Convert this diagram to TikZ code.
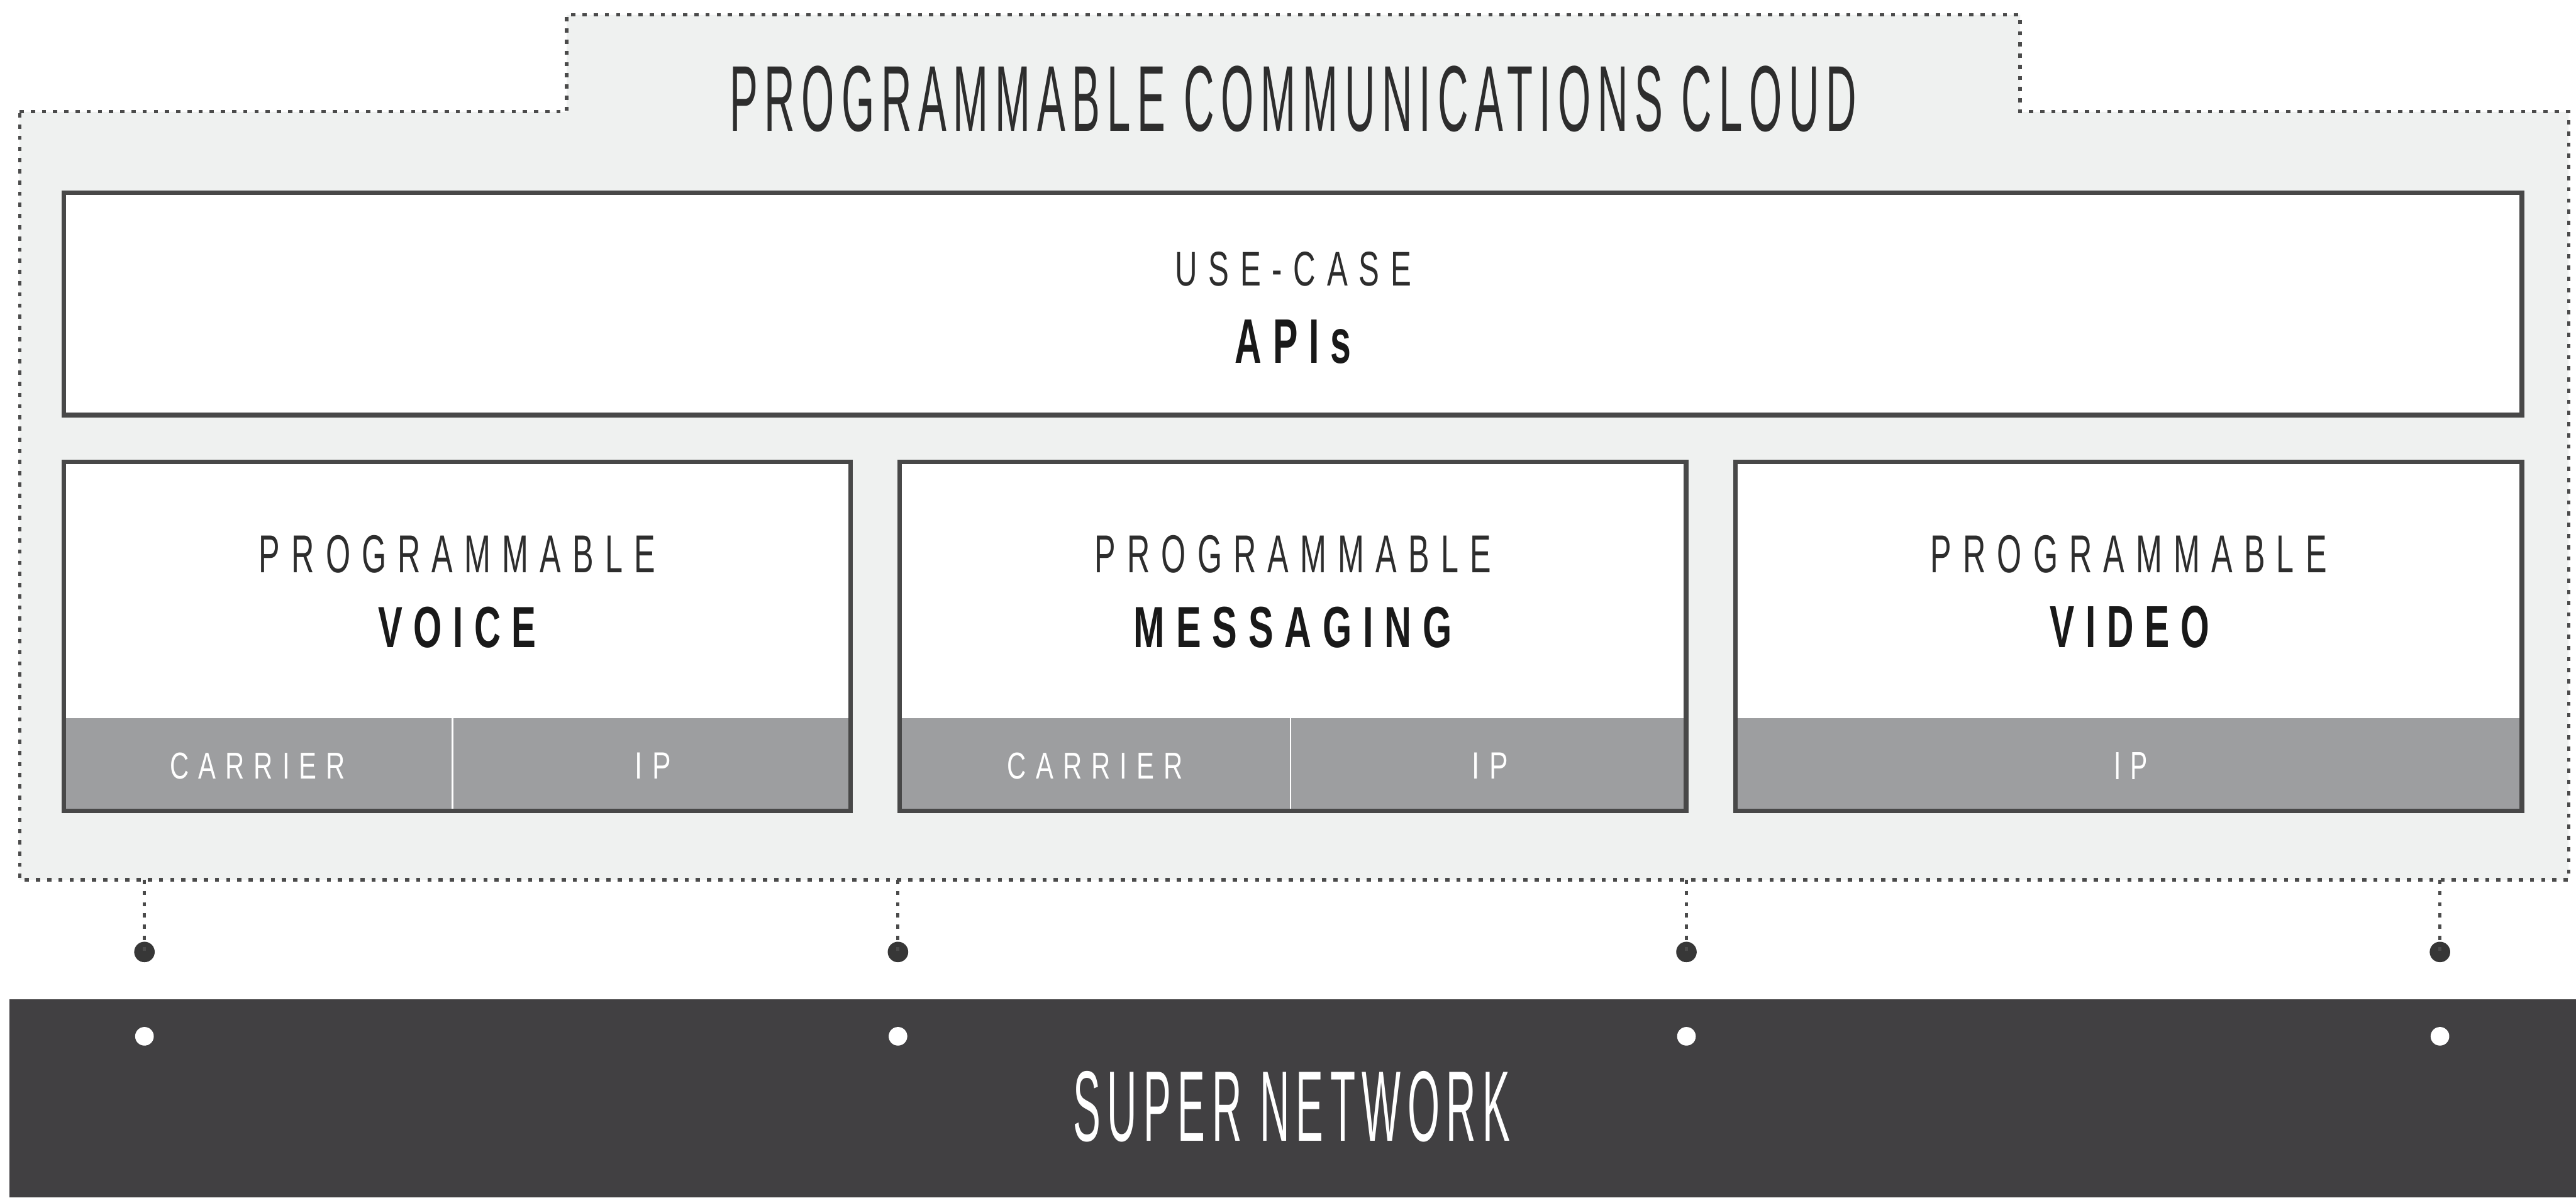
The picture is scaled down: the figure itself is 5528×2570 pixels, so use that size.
\documentclass[tikz,border=0pt]{standalone}
\usepackage{fontspec}
\usepackage{graphicx}
\setmainfont{Liberation Sans}
\newfontfamily\thinfont[LetterSpace=16]{Liberation Sans}
\newfontfamily\spacedfont[LetterSpace=36]{Liberation Sans}
\newfontfamily\boldspaced[LetterSpace=30]{Liberation Sans}
\newlength\px
\setlength\px{0.1mm}
\newcommand\fitT[3]{\resizebox{#1\px}{#2\px}{\thinfont #3}}
\newcommand\fitS[3]{\resizebox{#1\px}{#2\px}{\spacedfont #3}}
\newcommand\fitB[3]{\resizebox{#1\px}{#2\px}{\boldspaced\bfseries #3}}
\definecolor{cloudfill}{RGB}{239,241,240}
\definecolor{boxline}{RGB}{72,72,72}
\definecolor{bandgray}{RGB}{157,158,160}
\definecolor{netdark}{RGB}{65,64,66}
\definecolor{textdark}{RGB}{45,45,45}
\definecolor{textblack}{RGB}{25,25,25}
\definecolor{dotgray}{RGB}{55,55,55}
\definecolor{linegray}{RGB}{75,75,75}
\begin{document}
\begin{tikzpicture}[x=0.1mm,y=-0.1mm,
  every node/.style={inner sep=0pt,outer sep=0pt},
  cloudline/.style={draw=linegray,line width=0.7mm,dash pattern=on 0.9mm off 1.5mm},
  dotline/.style={draw=linegray,line width=0.7mm,dash pattern=on 0.9mm off 1.5mm},
  panel/.style={rectangle,fill=white},
  panelframe/.style={draw=boxline,line width=1.0mm},
  band/.style={rectangle,fill=bandgray},
  divider/.style={draw=white,line width=0.3mm},
  darkdot/.style={circle,fill=dotgray,minimum size=4.4mm},
  whitedot/.style={circle,fill=white,minimum size=4.0mm},
  dark/.style={text=textdark},
  darker/.style={text=textblack},
  light/.style={text=white}]
\useasboundingbox (0,0) rectangle (5528,2570);
\fill[white] (0,0) rectangle (5528,2570);
% cloud region
\path[cloudline,fill=cloudfill] (42,240) -- (1216,240) -- (1216,32) -- (4335,32) -- (4335,240) -- (5512,240) -- (5512,1888) -- (42,1888) -- cycle;
\node[dark] (title) at (2775,213) {\fitT{2418}{140}{PROGRAMMABLE COMMUNICATIONS CLOUD}};
% APIs box
\node[panel,minimum width=527.5mm,minimum height=47.7mm] (apis) at (2774.5,652.5) {};
\draw[panelframe] (apis.south west) rectangle (apis.north east);
\node[dark] (usecase) at (2775,577) {\fitS{507}{73}{USE-CASE}};
\node[darker] (apistext) at (2775,733) {\fitB{249}{93}{APIs}};
% three boxes
\node[panel,minimum width=168.8mm,minimum height=74.9mm] (voice) at (981,1365.5) {};
\node[panel,minimum width=168.8mm,minimum height=74.9mm] (msg) at (2774.5,1365.5) {};
\node[panel,minimum width=168.8mm,minimum height=74.9mm] (video) at (4568,1365.5) {};
\node[band,minimum width=168.8mm,minimum height=19.9mm] (vband) at (981,1640.5) {};
\node[band,minimum width=168.8mm,minimum height=19.9mm] (mband) at (2774.5,1640.5) {};
\node[band,minimum width=168.8mm,minimum height=19.9mm] (dband) at (4568,1640.5) {};
\coordinate (vdivt) at (971,1541);
\coordinate (vdivb) at (971,1740);
\coordinate (mdivt) at (2769,1541);
\coordinate (mdivb) at (2769,1740);
\draw[divider] (vdivt) -- (vdivb);
\draw[divider] (mdivt) -- (mdivb);
\draw[panelframe] (voice.south west) rectangle (voice.north east);
\draw[panelframe] (msg.south west) rectangle (msg.north east);
\draw[panelframe] (video.south west) rectangle (video.north east);
\node[dark] (vprog) at (981,1189) {\fitS{850}{80}{PROGRAMMABLE}};
\node[dark] (mprog) at (2774.5,1189) {\fitS{850}{80}{PROGRAMMABLE}};
\node[dark] (dprog) at (4568,1189) {\fitS{850}{80}{PROGRAMMABLE}};
\node[darker] (vname) at (981,1347) {\fitB{339}{87}{VOICE}};
\node[darker] (mname) at (2774.5,1347) {\fitB{683}{87}{MESSAGING}};
\node[darker] (dname) at (4570,1345) {\fitB{342}{89}{VIDEO}};
\node[light] (vcar) at (553,1644) {\fitS{376}{56}{CARRIER}};
\node[light] (vip) at (1401,1644) {\fitS{78}{56}{IP}};
\node[light] (mcar) at (2350,1644) {\fitS{376}{56}{CARRIER}};
\node[light] (mip) at (3198,1644) {\fitS{78}{56}{IP}};
\node[light] (dip) at (4572,1644) {\fitS{72}{58}{IP}};
% super network band
\node[rectangle,fill=netdark,minimum width=550.8mm,minimum height=42.6mm] (net) at (2774,2357) {};
\node[text=white] (nettext) at (2772,2375) {\fitT{938}{150}{SUPER NETWORK}};
% connectors
\coordinate (t1) at (310,1888);
\coordinate (t2) at (1927,1888);
\coordinate (t3) at (3619,1888);
\coordinate (t4) at (5236,1888);
\node[darkdot] (d1) at (310,2043) {};
\node[darkdot] (d2) at (1927,2043) {};
\node[darkdot] (d3) at (3619,2043) {};
\node[darkdot] (d4) at (5236,2043) {};
\draw[dotline] (t1) -- (d1.center);
\draw[dotline] (t2) -- (d2.center);
\draw[dotline] (t3) -- (d3.center);
\draw[dotline] (t4) -- (d4.center);
\node[whitedot] (w1) at (310,2224) {};
\node[whitedot] (w2) at (1927,2224) {};
\node[whitedot] (w3) at (3619,2224) {};
\node[whitedot] (w4) at (5236,2224) {};
\end{tikzpicture}
\end{document}
